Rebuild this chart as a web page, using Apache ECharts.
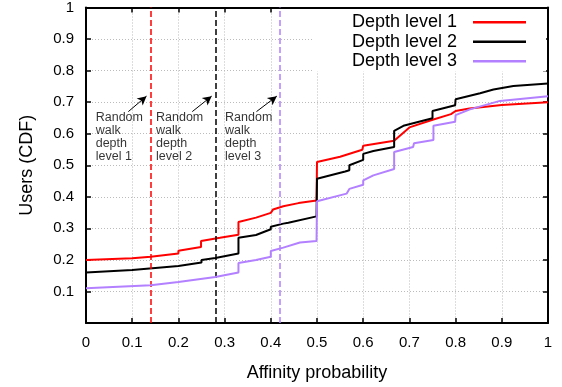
<!DOCTYPE html>
<html><head><meta charset="utf-8">
<script src="https://cdn.jsdelivr.net/npm/echarts@6/dist/echarts.min.js"></script>
<style>html,body{margin:0;padding:0;background:#fff}#c{width:562px;height:387px}</style>
</head><body><div id="c"></div>
<script>
var xTicks = [0,0.1,0.2,0.3,0.4,0.5,0.6,0.7,0.8,0.9,1];
var yTicks = [0.1,0.2,0.3,0.4,0.5,0.6,0.7,0.8,0.9,1];
var seriesNames = ['Depth level 1','Depth level 2','Depth level 3'];
var seriesColors = ['#ff0000','#000000','#b380ff'];

var depth1X = [0,0.10,0.14,0.20,0.20,0.249,0.249,0.29,0.33,0.33,0.368,0.40,0.405,0.427,0.46,0.499,0.50,0.55,0.598,0.60,0.667,0.70,0.752,0.79,0.80,0.83,0.90,1];
var depth1Y = [0.200,0.205,0.210,0.220,0.229,0.241,0.260,0.270,0.280,0.320,0.334,0.349,0.360,0.370,0.380,0.388,0.510,0.527,0.549,0.562,0.578,0.620,0.645,0.662,0.672,0.680,0.691,0.700];

var depth2X = [0,0.10,0.20,0.25,0.25,0.28,0.33,0.33,0.368,0.40,0.40,0.427,0.438,0.438,0.499,0.50,0.561,0.57,0.57,0.60,0.60,0.622,0.667,0.667,0.687,0.75,0.75,0.799,0.80,0.853,0.882,0.925,1];
var depth2Y = [0.160,0.168,0.181,0.192,0.200,0.206,0.220,0.270,0.279,0.297,0.305,0.315,0.318,0.323,0.338,0.457,0.480,0.484,0.500,0.517,0.536,0.545,0.558,0.609,0.625,0.649,0.672,0.690,0.709,0.728,0.740,0.751,0.759];

var depth3X = [0,0.14,0.20,0.28,0.33,0.33,0.368,0.40,0.40,0.427,0.463,0.499,0.50,0.564,0.57,0.60,0.60,0.622,0.667,0.667,0.708,0.71,0.752,0.752,0.799,0.80,0.831,0.896,1];
var depth3Y = [0.110,0.120,0.130,0.146,0.160,0.190,0.200,0.210,0.228,0.239,0.255,0.260,0.386,0.410,0.425,0.438,0.452,0.468,0.488,0.542,0.558,0.570,0.580,0.625,0.638,0.659,0.677,0.704,0.719];

var walkX = [0.14,0.28,0.42];
var walkColors = ['#ff0000','#000000','#b380ff'];
var noteText = ['Random\nwalk\ndepth\nlevel 1','Random\nwalk\ndepth\nlevel 2','Random\nwalk\ndepth\nlevel 3'];
var noteX = [0.021,0.1515,0.301];
var noteY = [0.67,0.67,0.67];
var arrowFrom = [[0.0916,0.67],[0.23,0.67],[0.369,0.67]];
var arrowTo = [[0.131,0.719],[0.272,0.719],[0.413,0.719]];

function zip(xs, ys){ return xs.map(function(x,i){ return [x, ys[i]]; }); }
var font = 'Liberation Sans, Arial, Helvetica, sans-serif';

var chart = echarts.init(document.getElementById('c'), null, {renderer:'canvas'});
var fmt = function(v){ return (Math.round(v*10)/10).toString(); };
var axisCommon = {
  type:'value', min:0, max:1, interval:0.1,
  axisLine:{show:true, onZero:false, lineStyle:{color:'#000', width:2}},
  axisTick:{show:true, inside:true, length:5, lineStyle:{color:'#000', width:1.5}},
};
var series = [];
var datasets = [zip(depth1X,depth1Y), zip(depth2X,depth2Y), zip(depth3X,depth3Y)];
for (var i=0;i<3;i++){
  series.push({
    name: seriesNames[i], type:'line', data: datasets[i], symbol:'none', showSymbol:false,
    lineStyle:{color: seriesColors[i], width:2}, itemStyle:{color: seriesColors[i]}, z: 3+i, animation:false
  });
}
series.push({
  type:'line', data:[], symbol:'none', silent:true, animation:false,
  markLine:{
    silent:true, animation:false, symbol:['none','none'],
    label:{show:false},
    data: walkX.map(function(x,i){ return {xAxis:x, lineStyle:{color:walkColors[i], type:[6,3], width:1.5}}; })
      .concat(arrowFrom.map(function(f,i){
        return [{coord:f, symbol:'none'}, {coord:arrowTo[i], symbol:'arrow', symbolSize:[7,9]}];
      })),
    lineStyle:{color:'#000', width:1, type:'solid'}
  }
});
series.push({
  type:'scatter', symbolSize:0, silent:true, animation:false,
  data: noteText.map(function(t,i){ return {value:[noteX[i], noteY[i]], name:t}; }),
  label:{show:true, position:[0,0], align:'left', verticalAlign:'top', formatter:function(p){return p.name;},
    color:'#000', fontSize:12.5, lineHeight:12.7, fontFamily:font}
});

chart.setOption({
  animation:false,
  backgroundColor:'#fff',
  grid:{left:86, right:14, top:7, bottom:63, containLabel:false},
  legend:{
    data: seriesNames.map(function(n){ return {name:n, icon:'rect'}; }),
    top:9, right:16, orient:'vertical', align:'right',
    itemWidth:53, itemHeight:2.5, itemGap:1, backgroundColor:'#fff', padding:[4,20,1,38],
    itemStyle:{borderWidth:0},
    textStyle:{fontSize:18, fontFamily:font, color:'#000', lineHeight:18.5, padding:[0,11,0,0]},
    selectedMode:false, z:10
  },
  xAxis:[
    Object.assign({}, axisCommon, {position:'bottom',
      name:'Affinity probability', nameLocation:'middle', nameGap:41,
      nameTextStyle:{fontSize:18, fontFamily:font, color:'#000'},
      axisLabel:{color:'#000', fontSize:15, fontFamily:font, margin:12, formatter:fmt},
      splitLine:{show:true, lineStyle:{color:'#bbb', type:[1,2], width:1}}}),
    Object.assign({}, axisCommon, {position:'top', axisLabel:{show:false}, splitLine:{show:false}})
  ],
  yAxis:[
    Object.assign({}, axisCommon, {position:'left',
      name:'Users (CDF)', nameLocation:'middle', nameGap:50,
      nameTextStyle:{fontSize:18, fontFamily:font, color:'#000'},
      axisLabel:{color:'#000', fontSize:15, fontFamily:font, margin:12, formatter:function(v){ return v===0?'':fmt(v); }},
      splitLine:{show:true, lineStyle:{color:'#bbb', type:[1,2], width:1}}}),
    Object.assign({}, axisCommon, {position:'right', axisLabel:{show:false}, splitLine:{show:false}})
  ],
  series: series
});
</script></body></html>
